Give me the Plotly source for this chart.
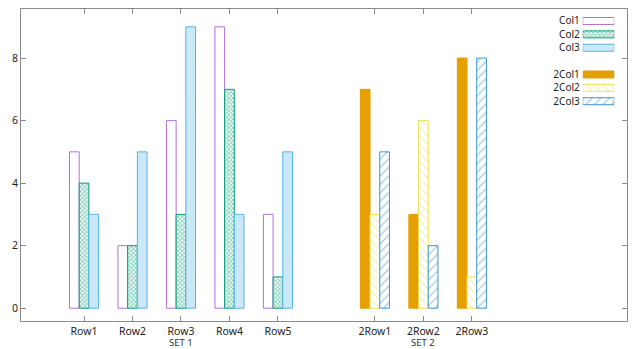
import plotly.graph_objects as go

rows1 = ["Row1", "Row2", "Row3", "Row4", "Row5"]
rows2 = ["2Row1", "2Row2", "2Row3"]
col1 = [5, 2, 6, 9, 3]
col2 = [4, 2, 3, 7, 1]
col3 = [3, 5, 9, 3, 5]
c2col1 = [7, 3, 8]
c2col2 = [3, 6, 1]
c2col3 = [5, 2, 8]
set_labels = ["SET 1", "SET 2"]

pos1 = list(range(len(rows1)))
pos2 = [len(rows1) + 1 + i for i in range(len(rows2))]

FONT = "Noto Sans"
W = 0.2

styles = [
    # name, positions, values, offset, line color, fill, pattern shape, bg, size, solidity
    ("Col1", pos1, col1, -0.3, "#b36fd6", "white", None, None, 0, 0),
    ("Col2", pos1, col2, -0.1, "#009e73", "white", "x", "white", 3, 0.5),
    ("Col3", pos1, col3, 0.1, "#56b4e9", "#cfeaf7", "x", "#d9eef9", 2, 0.3),
    ("2Col1", pos2, c2col1, -0.3, "#e69f00", "#e69f00", None, None, 0, 0),
    ("2Col2", pos2, c2col2, -0.1, "#ece25a", "white", "\\", "white", 6, 0.2),
    ("2Col3", pos2, c2col3, 0.1, "#3d95d0", "white", "/", "white", 6, 0.2),
]

def make_marker(color, fill, shape, bg, size, sol):
    m = dict(color=fill, line=dict(color=color, width=1))
    if shape:
        m["pattern"] = dict(shape=shape, fgcolor=color, bgcolor=bg, size=size,
                            solidity=sol, fillmode="overlay")
    return m

fig = go.Figure()
for name, x, y, off, color, fill, shape, bg, size, sol in styles:
    fig.add_trace(go.Bar(name=name, x=x, y=y, width=W, offset=off,
                         marker=make_marker(color, fill, shape, bg, size, sol),
                         showlegend=False))

# custom key (gnuplot-style: text on the left, sample on the right)
slots = []
for i in range(len(styles)):
    slots.append(i if i < 3 else i + 1)
for (name, x, y, off, color, fill, shape, bg, size, sol), s in zip(styles, slots):
    fig.add_trace(go.Bar(name=name, y=[s], x=[1], orientation="h", width=0.52,
                         marker=make_marker(color, fill, shape, bg, size, sol),
                         xaxis="x2", yaxis="y2", showlegend=False, hoverinfo="skip"))

for lab, xc in zip(set_labels, [pos1[len(pos1) // 2], pos2[len(pos2) // 2]]):
    fig.add_annotation(text=lab, x=xc, xref="x", y=0, yref="paper", yshift=-21.5,
                       showarrow=False, yanchor="middle",
                       font=dict(family=FONT, size=9.5, color="#333"))

axis_common = dict(showline=True, linecolor="#8a8a8a", linewidth=1, mirror="ticks",
                   ticks="inside", ticklen=5, tickcolor="#8a8a8a", showgrid=False,
                   zeroline=False, tickfont=dict(family=FONT, size=10.5, color="#222"))

fig.update_layout(
    width=640, height=349,
    margin=dict(l=21, r=13, t=9, b=28),
    paper_bgcolor="white", plot_bgcolor="rgba(0,0,0,0)",
    barmode="overlay",
    showlegend=False,
    xaxis=dict(range=[-1.3, 11.2], tickvals=pos1 + pos2, ticktext=rows1 + rows2,
               ticklabelstandoff=0, **axis_common),
    yaxis=dict(range=[-0.41, 9.57], tickvals=[0, 2, 4, 6, 8], **axis_common),
    xaxis2=dict(domain=[0.927, 0.979], range=[0, 1], visible=False, anchor="y2"),
    yaxis2=dict(domain=[0.683, 0.983], range=[6.5, -0.5], anchor="x2",
                tickvals=slots, ticktext=[s[0] for s in styles], showgrid=False,
                zeroline=False, showline=False, ticks="", ticklabelstandoff=2,
                tickfont=dict(family=FONT, size=10, color="#222")),
)

fig.write_html("out.html")
